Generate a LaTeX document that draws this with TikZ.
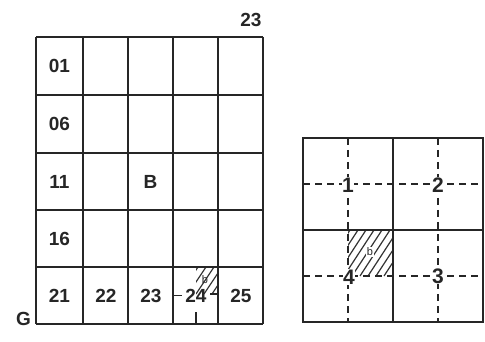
\documentclass[tikz,border=0pt]{standalone}
\usepackage{fontspec}
\setmainfont{Liberation Sans}
\begin{document}
\begin{tikzpicture}[x=1pt,y=-1pt,
  gridline/.style={line width=1.4pt, draw=black!85},
  dashline/.style={line width=1.3pt, draw=black!85, dash pattern=on 7pt off 5pt},
  hatchline/.style={line width=1.2pt, draw=black!80},
  lbl/.style={font=\bfseries\fontsize{19}{19}\selectfont, text=black!85, inner sep=1pt},
  numlbl/.style={font=\bfseries\fontsize{21}{21}\selectfont, text=black!85, fill=white, inner sep=0.3pt},
  tiny/.style={font=\fontsize{11}{11}\selectfont, text=black!85, inner sep=0pt}]
\useasboundingbox (0,0) rectangle (485,342);
\fill[white] (0,0) rectangle (485,342);

% ---------- left index grid ----------
\begin{scope}
  \clip (196,267) rectangle (218,294);
  \foreach \a in {180,188,...,236} \draw[hatchline] (\a,294) -- ++(18,-27);
\end{scope}
\foreach \x in {36,83,128,173,218,263} \draw[gridline] (\x,37) -- (\x,324);
\foreach \y in {37,95,153,210,267,324} \draw[gridline] (36,\y) -- (263,\y);
\draw[gridline, line width=1.1pt] (173,295.5) -- (182,295.5);
\draw[gridline, line width=1.1pt] (196,312) -- (196,324);
\draw[gridline, line width=1.1pt] (210,294) -- (218,294);

\node[lbl] (top23) at (251,20) {23};
\node[lbl] (g) at (23.5,319) {G};
\node[lbl] (c01) at (59.5,66) {01};
\node[lbl] (c06) at (59.5,124) {06};
\node[lbl] (c11) at (59.5,182) {11};
\node[lbl] (c16) at (59.5,239) {16};
\node[lbl] (c21) at (59.5,296) {21};
\node[lbl] (c22) at (106,296) {22};
\node[lbl] (c23) at (151,296) {23};
\node[lbl] (c24) at (196,296) {24};
\node[lbl] (c25) at (241,296) {25};
\node[lbl] (cb) at (150.5,182) {B};
\node[tiny] (c24b) at (205,280) {b};

% ---------- right sheet diagram ----------
\begin{scope}
  \clip (348,230) rectangle (393,276);
  \foreach \a in {320,328,...,400} \draw[hatchline] (\a,276) -- ++(30,-46);
\end{scope}
\foreach \x in {348,438} \draw[dashline] (\x,138) -- (\x,322);
\foreach \y in {184,276} \draw[dashline] (303,\y) -- (483,\y);
\draw[gridline] (303,138) rectangle (483,322);
\draw[gridline] (393,138) -- (393,322);
\draw[gridline] (303,230) -- (483,230);

\node[numlbl] (q1) at (348,185) {1};
\node[numlbl] (q2) at (438,185) {2};
\node[numlbl] (q3) at (438,276) {3};
\node[numlbl] (q4) at (349,277) {4};
\node[tiny, fill=white, inner sep=0.5pt] (qb) at (370,252) {b};
\end{tikzpicture}
\end{document}
